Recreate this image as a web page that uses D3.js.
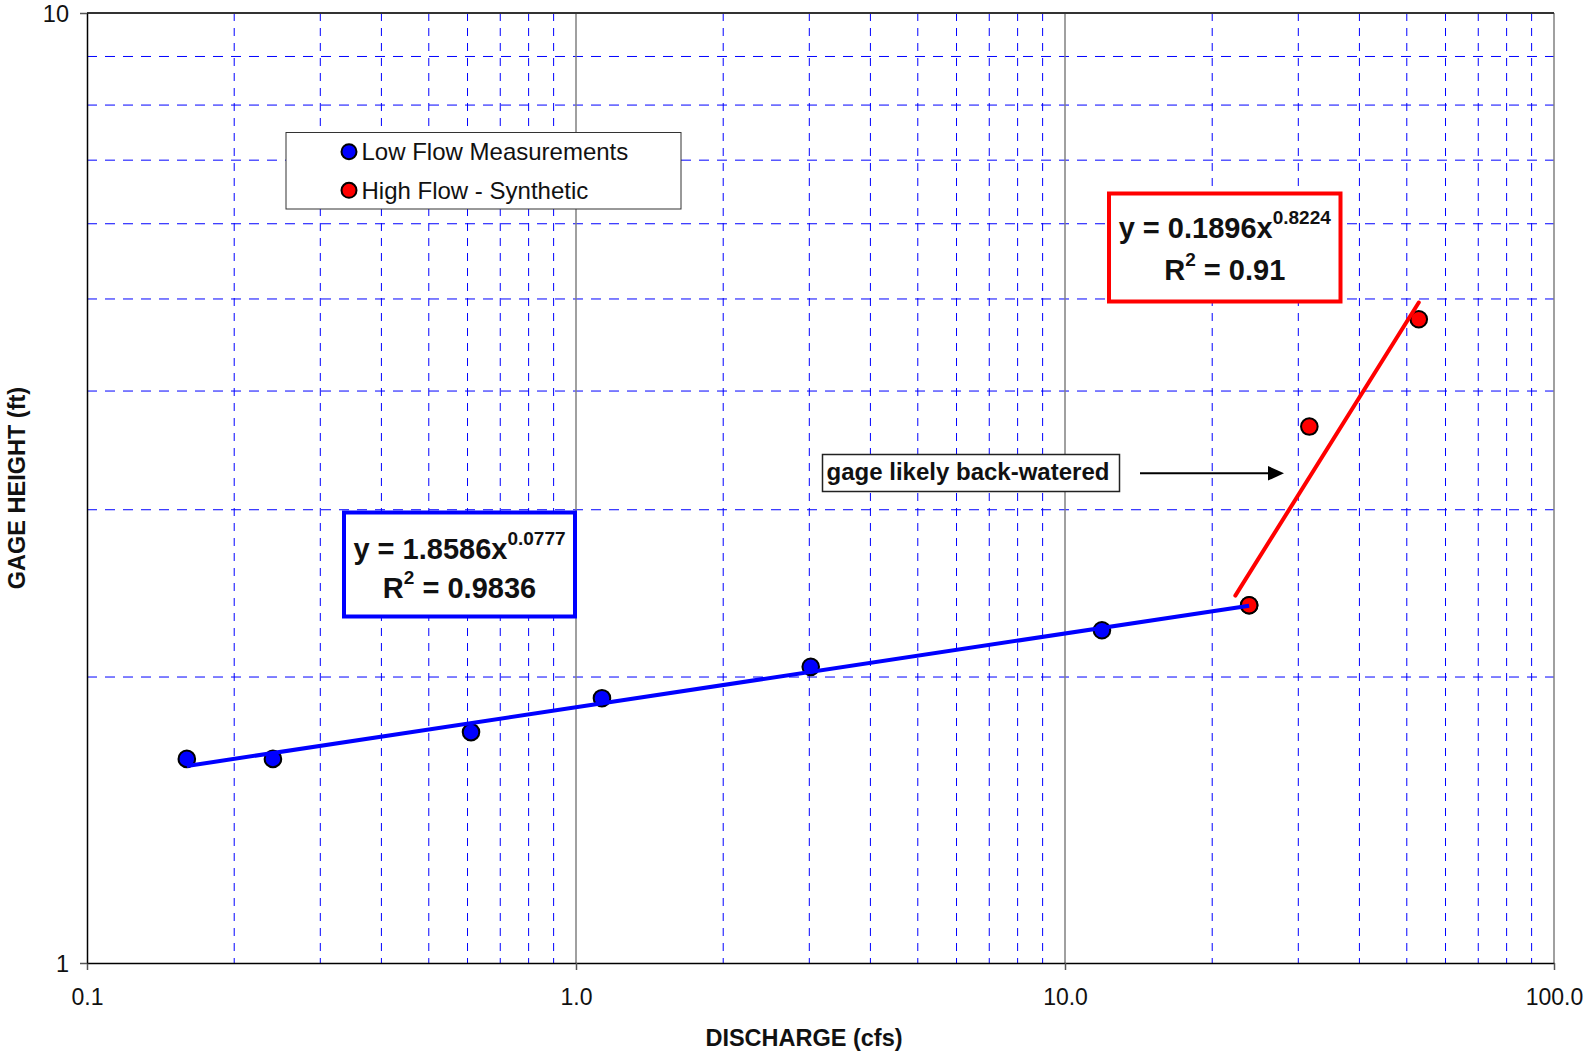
<!DOCTYPE html>
<html>
<head>
<meta charset="utf-8">
<script src="https://cdnjs.cloudflare.com/ajax/libs/d3/7.8.5/d3.min.js"></script>
<style>
  html, body { margin: 0; padding: 0; background: #fff; }
  svg { display: block; font-family: "Liberation Sans", Arial, sans-serif; }
</style>
</head>
<body>
<svg id="chart" width="1585" height="1052"></svg>
<script>
// ---- data ----
const lowQ = [0.160, 0.240, 0.610, 1.13, 3.02, 11.9, 23.8];
const lowH = [1.64, 1.64, 1.75, 1.90, 2.05, 2.24, 2.38];
const highQ = [23.8, 31.6, 52.9];
const highH = [2.38, 3.67, 4.76];
const lowTrend = [1.8586, 0.0777];      // y = a * x^b
const lowTrendRange = [0.160, 23.8];
const highTrend = [0.1896, 0.8224];
const highTrendRange = [22.3, 52.9];
const xTickValues = [0.1, 1, 10, 100];
const xTickLabels = ["0.1", "1.0", "10.0", "100.0"];
const yTickValues = [1, 10];
const yTickLabels = ["1", "10"];
const legendLabels = ["Low Flow Measurements", "High Flow - Synthetic"];

// ---- layout ----
const svg = d3.select("#chart");
const L = 87, R = 1554, T = 13, B = 963;
const x = d3.scaleLog().domain([0.1, 100]).range([L, R]);
const y = d3.scaleLog().domain([1, 10]).range([B, T]);

// minor grid values
const xMinor = [], yMinor = [];
[0.1, 1, 10].forEach(d => { for (let k = 2; k <= 9; k++) xMinor.push(+(d * k).toPrecision(3)); });
for (let k = 2; k <= 9; k++) yMinor.push(k);

const grid = svg.append("g");
grid.selectAll(".vx").data(xMinor).join("line")
  .attr("x1", d => x(d)).attr("x2", d => x(d)).attr("y1", T).attr("y2", B)
  .attr("stroke", "#0000ff").attr("stroke-width", 1).attr("stroke-dasharray", "8,7");
grid.selectAll(".hy").data(yMinor).join("line")
  .attr("x1", L).attr("x2", R).attr("y1", d => y(d)).attr("y2", d => y(d))
  .attr("stroke", "#0000ff").attr("stroke-width", 1).attr("stroke-dasharray", "10,8");
// major gridlines
grid.selectAll(".mx").data([1, 10]).join("line")
  .attr("x1", d => x(d)).attr("x2", d => x(d)).attr("y1", T).attr("y2", B)
  .attr("stroke", "#808080").attr("stroke-width", 1.5);
// right edge (100) and top (10)
grid.append("line").attr("x1", x(100)).attr("x2", x(100)).attr("y1", T).attr("y2", B)
  .attr("stroke", "#808080").attr("stroke-width", 1.5);
grid.append("line").attr("x1", L).attr("x2", R).attr("y1", y(10)).attr("y2", y(10))
  .attr("stroke", "#333").attr("stroke-width", 2);

// axes
const xAxis = d3.axisBottom(x).tickValues(xTickValues)
  .tickFormat((d, i) => xTickLabels[i]).tickSize(7).tickSizeOuter(0);
const gx = svg.append("g").attr("transform", `translate(0,${B})`).call(xAxis);
gx.select(".domain").attr("stroke", "#000").attr("stroke-width", 1.5);
gx.selectAll(".tick line").attr("stroke", "#555").attr("stroke-width", 1.5);
gx.selectAll(".tick text").attr("font-size", 23).attr("fill", "#111")
  .attr("font-family", "Liberation Sans, Arial, sans-serif").attr("dy", null).attr("y", 42);

const yAxis = d3.axisLeft(y).tickValues(yTickValues)
  .tickFormat((d, i) => yTickLabels[i]).tickSize(7).tickSizeOuter(0);
const gy = svg.append("g").attr("transform", `translate(${L},0)`).call(yAxis);
gy.select(".domain").attr("stroke", "#000").attr("stroke-width", 1.5);
gy.selectAll(".tick line").attr("stroke", "#555").attr("stroke-width", 1.5);
gy.selectAll(".tick text").attr("font-size", 23.5).attr("fill", "#111")
  .attr("font-family", "Liberation Sans, Arial, sans-serif").attr("x", -18).attr("dy", "0.36em");

// axis titles
svg.append("text").attr("x", 804).attr("y", 1046).attr("text-anchor", "middle")
  .attr("font-size", 23.5).attr("font-weight", "bold").attr("fill", "#111").text("DISCHARGE (cfs)");
svg.append("text").attr("transform", "translate(25,488) rotate(-90)").attr("text-anchor", "middle")
  .attr("font-size", 23.5).attr("font-weight", "bold").attr("fill", "#111").text("GAGE HEIGHT (ft)");

// markers
const lowPts = lowQ.map((q, i) => ({ q, h: lowH[i] }));
const highPts = highQ.map((q, i) => ({ q, h: highH[i] }));
svg.append("g").selectAll("circle").data(lowPts).join("circle")
  .attr("cx", d => x(d.q)).attr("cy", d => y(d.h)).attr("r", 8.3)
  .attr("fill", "#0000ff").attr("stroke", "#000").attr("stroke-width", 2);
svg.append("g").selectAll("circle").data(highPts).join("circle")
  .attr("cx", d => x(d.q)).attr("cy", d => y(d.h)).attr("r", 8.3)
  .attr("fill", "#ff0000").attr("stroke", "#000").attr("stroke-width", 2);

// trendlines
const line = d3.line().x(d => x(d[0])).y(d => y(d[1]));
function trendPts(tr, rg) {
  return rg.map(q => [q, tr[0] * Math.pow(q, tr[1])]);
}
svg.append("path").attr("d", line(trendPts(lowTrend, lowTrendRange)))
  .attr("stroke", "#0000ff").attr("stroke-width", 4).attr("fill", "none");
svg.append("path").attr("d", line(trendPts(highTrend, highTrendRange)))
  .attr("stroke", "#ff0000").attr("stroke-width", 4).attr("fill", "none").attr("stroke-linecap", "round");

// legend
const lg = svg.append("g");
lg.append("rect").attr("x", 286).attr("y", 132.5).attr("width", 395).attr("height", 76.5)
  .attr("fill", "#fff").attr("stroke", "#333").attr("stroke-width", 1);
const legColors = ["#0000ff", "#ff0000"];
legendLabels.forEach((t, i) => {
  const cy = 151.7 + i * 38.6;
  lg.append("circle").attr("cx", 349).attr("cy", cy).attr("r", 7.5)
    .attr("fill", legColors[i]).attr("stroke", "#000").attr("stroke-width", 2);
  lg.append("text").attr("x", 361.5).attr("y", cy).attr("dy", "0.36em")
    .attr("font-size", 24).attr("fill", "#111").text(t);
});

// equation boxes
function eqBox(bx, by, bw, bh, color, coef, exp, r2, base1, base2) {
  const g = svg.append("g");
  g.append("rect").attr("x", bx).attr("y", by).attr("width", bw).attr("height", bh)
    .attr("fill", "#fff").attr("stroke", color).attr("stroke-width", 4);
  const cx = bx + bw / 2;
  const t1 = g.append("text").attr("x", cx).attr("y", base1).attr("text-anchor", "middle")
    .attr("font-weight", "bold").attr("fill", "#111");
  t1.append("tspan").attr("font-size", 29).text(`y = ${coef}x`);
  t1.append("tspan").attr("font-size", 19).attr("dy", -14).text(exp);
  const t2 = g.append("text").attr("x", cx).attr("y", base2).attr("text-anchor", "middle")
    .attr("font-weight", "bold").attr("fill", "#111");
  t2.append("tspan").attr("font-size", 29).text("R");
  t2.append("tspan").attr("font-size", 19).attr("dy", -14).text("2");
  t2.append("tspan").attr("font-size", 29).attr("dy", 14).text(` = ${r2}`);
}
eqBox(344, 512.5, 231, 104, "#0000ff", "1.8586", "0.0777", "0.9836", 558.5, 598);
eqBox(1109, 193.5, 231.5, 108, "#ff0000", "0.1896", "0.8224", "0.91", 237.5, 279.5);

// annotation
const ag = svg.append("g");
ag.append("rect").attr("x", 822.5).attr("y", 454.5).attr("width", 297).attr("height", 37)
  .attr("fill", "#fff").attr("stroke", "#222").attr("stroke-width", 1.5);
ag.append("text").attr("x", 968).attr("y", 479.5).attr("text-anchor", "middle")
  .attr("font-size", 24).attr("font-weight", "bold").attr("fill", "#111").text("gage likely back-watered");
ag.append("line").attr("x1", 1140).attr("x2", 1270).attr("y1", 473.3).attr("y2", 473.3)
  .attr("stroke", "#000").attr("stroke-width", 2);
ag.append("path").attr("d", "M1268,466 L1284,473.3 L1268,480.6 Z").attr("fill", "#000");
</script>
</body>
</html>
